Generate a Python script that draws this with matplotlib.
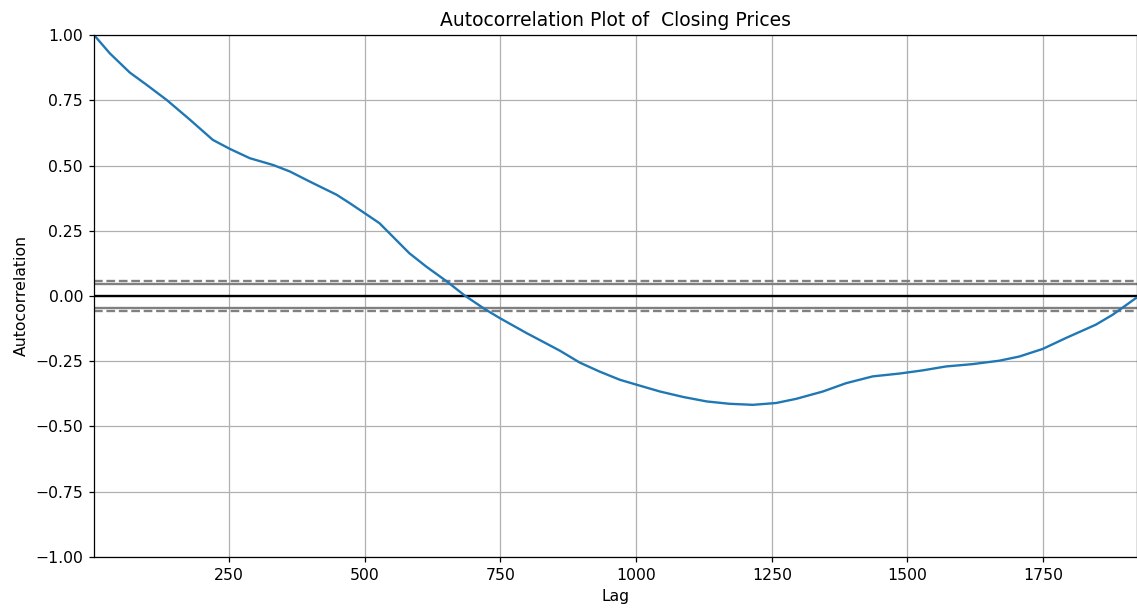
"""
Autocorrelation plot of closing prices (values read off the reference)
"""

import numpy as np
import matplotlib
matplotlib.use("Agg")
import matplotlib.pyplot as plt

# number of observations in the series (sets x range and confidence bands)
n_obs = 1923

# lag / autocorrelation pairs
lags = [1, 30, 67, 98, 135, 178, 220, 251, 288, 331, 362, 398, 448, 472,
        500, 527, 582, 613, 651, 684, 721, 749, 798, 859, 896, 932, 970,
        1001, 1044, 1087, 1130, 1172, 1215, 1258, 1295, 1344, 1387, 1436,
        1486, 1528, 1571, 1620, 1669, 1706, 1749, 1792, 1847, 1878, 1921]
acf = [1.00, 0.930, 0.856, 0.809, 0.751, 0.675, 0.598, 0.564, 0.528, 0.502,
       0.477, 0.439, 0.388, 0.356, 0.317, 0.279, 0.164, 0.113, 0.056, 0.002,
       -0.050, -0.085, -0.142, -0.209, -0.255, -0.289, -0.321, -0.340,
       -0.366, -0.387, -0.404, -0.413, -0.417, -0.410, -0.394, -0.366,
       -0.334, -0.308, -0.297, -0.285, -0.270, -0.261, -0.248, -0.232,
       -0.203, -0.161, -0.110, -0.072, -0.008]

z95 = 1.959963984540054
z99 = 2.5758293035489004

# the reference looks like a default figure rendered at a slightly higher dpi
dpi = 112.5
fig = plt.figure(figsize=(1137 / dpi, 611 / dpi), dpi=dpi)
ax = fig.add_axes([0.0827, 0.0884, 0.9173, 0.8543])

ax.set_xlim(1, n_obs)
ax.set_ylim(-1.0, 1.0)

ax.axhline(y=z99 / np.sqrt(n_obs), linestyle="--", color="grey")
ax.axhline(y=z95 / np.sqrt(n_obs), color="grey")
ax.axhline(y=0.0, color="black")
ax.axhline(y=-z95 / np.sqrt(n_obs), color="grey")
ax.axhline(y=-z99 / np.sqrt(n_obs), linestyle="--", color="grey")

ax.plot(lags, acf)
ax.set_xticks([250, 500, 750, 1000, 1250, 1500, 1750])
ax.set_xlabel("Lag")
ax.set_ylabel("Autocorrelation")
ax.grid()
ax.set_title("Autocorrelation Plot of  Closing Prices")

fig.savefig("out.png", dpi=dpi)
